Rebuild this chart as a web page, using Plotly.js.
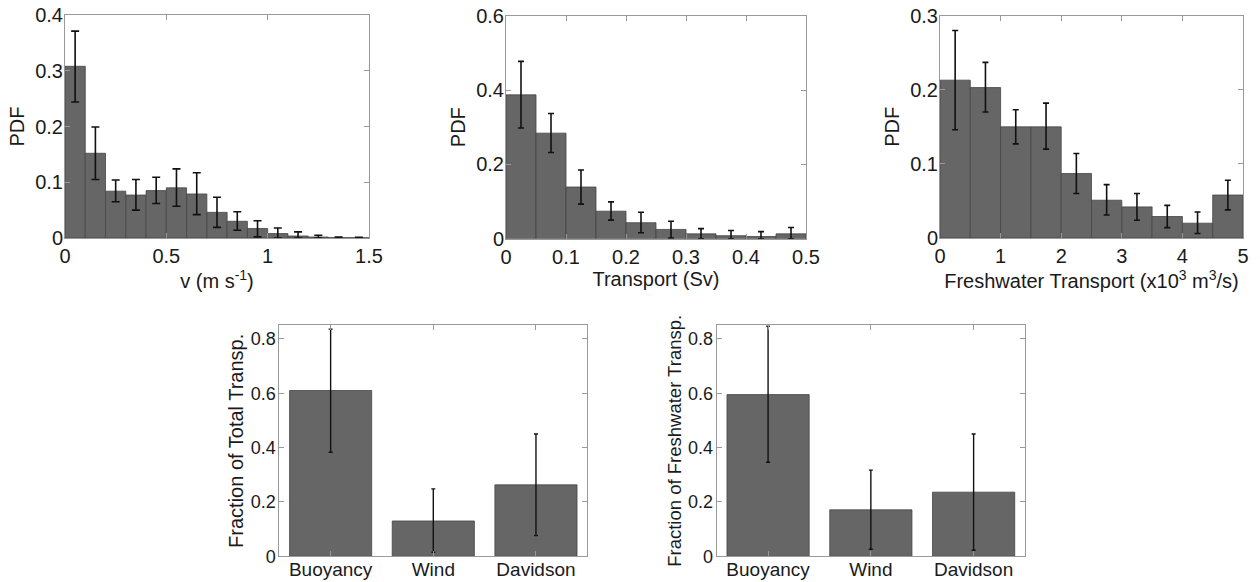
<!DOCTYPE html>
<html>
<head>
<meta charset="utf-8">
<script src="https://cdn.plot.ly/plotly-3.0.1.min.js"></script>
<style>html,body{margin:0;padding:0;background:#fff;}#chart{width:1260px;height:582px;}</style>
</head>
<body>
<div id="chart"></div>
<script>
// ---- Panel 1: speed PDF ----
const speedBins = [0.05,0.15,0.25,0.35,0.45,0.55,0.65,0.75,0.85,0.95,1.05,1.15,1.25,1.35,1.45];
const speedPdf  = [0.308,0.152,0.084,0.077,0.085,0.090,0.079,0.046,0.030,0.017,0.008,0.0036,0.0018,0.0006,0.0005];
const speedErrHi= [0.371,0.199,0.104,0.105,0.109,0.124,0.117,0.073,0.047,0.031,0.018,0.011,0.005,0.0015,0.0012];
const speedErrLo= [0.244,0.105,0.065,0.050,0.062,0.057,0.042,0.019,0.014,0.002,0.000,0.000,0.000,0.000,0.000];

// ---- Panel 2: transport PDF ----
const transBins = [0.025,0.075,0.125,0.175,0.225,0.275,0.325,0.375,0.425,0.475];
const transPdf  = [0.387,0.284,0.139,0.074,0.043,0.025,0.013,0.008,0.006,0.013];
const transErrHi= [0.477,0.337,0.185,0.099,0.071,0.047,0.027,0.022,0.019,0.030];
const transErrLo= [0.298,0.232,0.093,0.050,0.016,0.002,0.000,0.000,0.000,0.000];

// ---- Panel 3: freshwater transport PDF ----
const fwBins = [0.25,0.75,1.25,1.75,2.25,2.75,3.25,3.75,4.25,4.75];
const fwPdf  = [0.213,0.203,0.150,0.150,0.087,0.051,0.042,0.029,0.020,0.058];
const fwErrHi= [0.280,0.237,0.173,0.182,0.114,0.072,0.060,0.044,0.035,0.078];
const fwErrLo= [0.146,0.170,0.127,0.120,0.060,0.031,0.024,0.014,0.006,0.038];

// ---- Panels 4 & 5: fractions ----
const drivers = ['Buoyancy','Wind','Davidson'];
const totFrac  = [0.610,0.130,0.263];
const totErrHi = [0.836,0.248,0.450];
const totErrLo = [0.383,0.015,0.076];
const fwFrac   = [0.595,0.171,0.236];
const fwFracHi = [0.847,0.317,0.450];
const fwFracLo = [0.346,0.026,0.022];

const barColor = '#666666';
const edgeColor = '#454545';

function barTrace(x, y, hi, lo, xa, ya, width, capw, thick) {
  const t = {
    type: 'bar', x: x, y: y, xaxis: xa, yaxis: ya,
    marker: {color: barColor, line: {color: edgeColor, width: 0.8}},
    error_y: {
      type: 'data', symmetric: false,
      array: y.map((v, i) => hi[i] - v),
      arrayminus: y.map((v, i) => v - lo[i]),
      color: '#111', thickness: thick, width: capw
    },
    showlegend: false, hoverinfo: 'x+y'
  };
  if (width !== null) t.width = width;
  return t;
}

const data = [
  barTrace(speedBins, speedPdf, speedErrHi, speedErrLo, 'x', 'y', 0.1, 4, 1.6),
  barTrace(transBins, transPdf, transErrHi, transErrLo, 'x2', 'y2', 0.05, 3, 1.6),
  barTrace(fwBins, fwPdf, fwErrHi, fwErrLo, 'x3', 'y3', 0.5, 3, 1.6),
  barTrace(drivers, totFrac, totErrHi, totErrLo, 'x4', 'y4', null, 2, 1.4),
  barTrace(drivers, fwFrac, fwFracHi, fwFracLo, 'x5', 'y5', null, 2, 1.4)
];

const W = 1260, H = 582;
const fx = (a, b) => [a / W, b / W];
const fy = (top, bot) => [1 - bot / H, 1 - top / H];

const FAM = 'Liberation Sans, Arial, sans-serif';
const tickFont = {family: FAM, size: 20, color: '#1a1a1a'};
const tickFontB = {family: FAM, size: 18, color: '#1a1a1a'};
const catFont = {family: FAM, size: 19, color: '#1a1a1a'};
const titleFont = {family: FAM, size: 20, color: '#1a1a1a'};
const t4Font = {family: FAM, size: 20, color: '#1a1a1a'};
const t5Font = {family: FAM, size: 18.5, color: '#1a1a1a'};

function ax(extra) {
  return Object.assign({
    showline: true, mirror: 'ticks', linecolor: '#9a9a9a', linewidth: 1,
    ticks: 'inside', ticklen: 5, tickcolor: '#9a9a9a', tickwidth: 1,
    showgrid: false, zeroline: false, tickfont: tickFont, automargin: false, fixedrange: true
  }, extra);
}

const layout = {
  width: W, height: H,
  margin: {l: 0, r: 0, t: 0, b: 0},
  paper_bgcolor: '#fff', plot_bgcolor: '#fff',
  bargap: 0.2,
  xaxis: ax({domain: fx(65, 369), anchor: 'y', range: [0, 1.5], dtick: 0.5, tick0: 0,
    title: {text: 'v (m s<sup>-1</sup>)', font: titleFont, standoff: 5}}),
  yaxis: ax({domain: fy(15, 238), anchor: 'x', range: [0, 0.4], dtick: 0.1, tick0: 0, ticklabelstandoff: -3,
    title: {text: 'PDF', font: titleFont, standoff: 5}}),
  xaxis2: ax({domain: fx(506, 806), anchor: 'y2', range: [0, 0.5], dtick: 0.1, tick0: 0,
    title: {text: 'Transport (Sv)', font: titleFont, standoff: 5}}),
  yaxis2: ax({domain: fy(15.7, 238.7), anchor: 'x2', range: [0, 0.6], dtick: 0.2, tick0: 0, ticklabelstandoff: -3,
    title: {text: 'PDF', font: titleFont, standoff: 5}}),
  xaxis3: ax({domain: fx(940, 1243), anchor: 'y3', range: [0, 5], dtick: 1, tick0: 0,
    title: {text: 'Freshwater Transport (x10<sup>3</sup> m<sup>3</sup>/s)', font: titleFont, standoff: 5}}),
  yaxis3: ax({domain: fy(15.7, 238), anchor: 'x3', range: [0, 0.3], dtick: 0.1, tick0: 0, ticklabelstandoff: -3,
    title: {text: 'PDF', font: titleFont, standoff: 5}}),
  xaxis4: ax({domain: fx(279.3, 587.3), anchor: 'y4', type: 'category', range: [-0.5, 2.5],
    tickfont: catFont, ticklabelstandoff: -4}),
  yaxis4: ax({domain: fy(325.3, 556.3), anchor: 'x4', range: [0, 0.85], dtick: 0.2, tick0: 0,
    tickfont: tickFontB, ticklabelstandoff: -1,
    title: {text: 'Fraction of Total Transp.', font: t4Font, standoff: 1}}),
  xaxis5: ax({domain: fx(716.7, 1025), anchor: 'y5', type: 'category', range: [-0.5, 2.5],
    tickfont: catFont, ticklabelstandoff: -4}),
  yaxis5: ax({domain: fy(325.3, 556.3), anchor: 'x5', range: [0, 0.85], dtick: 0.2, tick0: 0,
    tickfont: tickFontB, ticklabelstandoff: -1,
    title: {text: 'Fraction of Freshwater Transp.', font: t5Font, standoff: 1}})
};

Plotly.newPlot('chart', data, layout, {displayModeBar: false, staticPlot: true});
</script>
</body>
</html>
